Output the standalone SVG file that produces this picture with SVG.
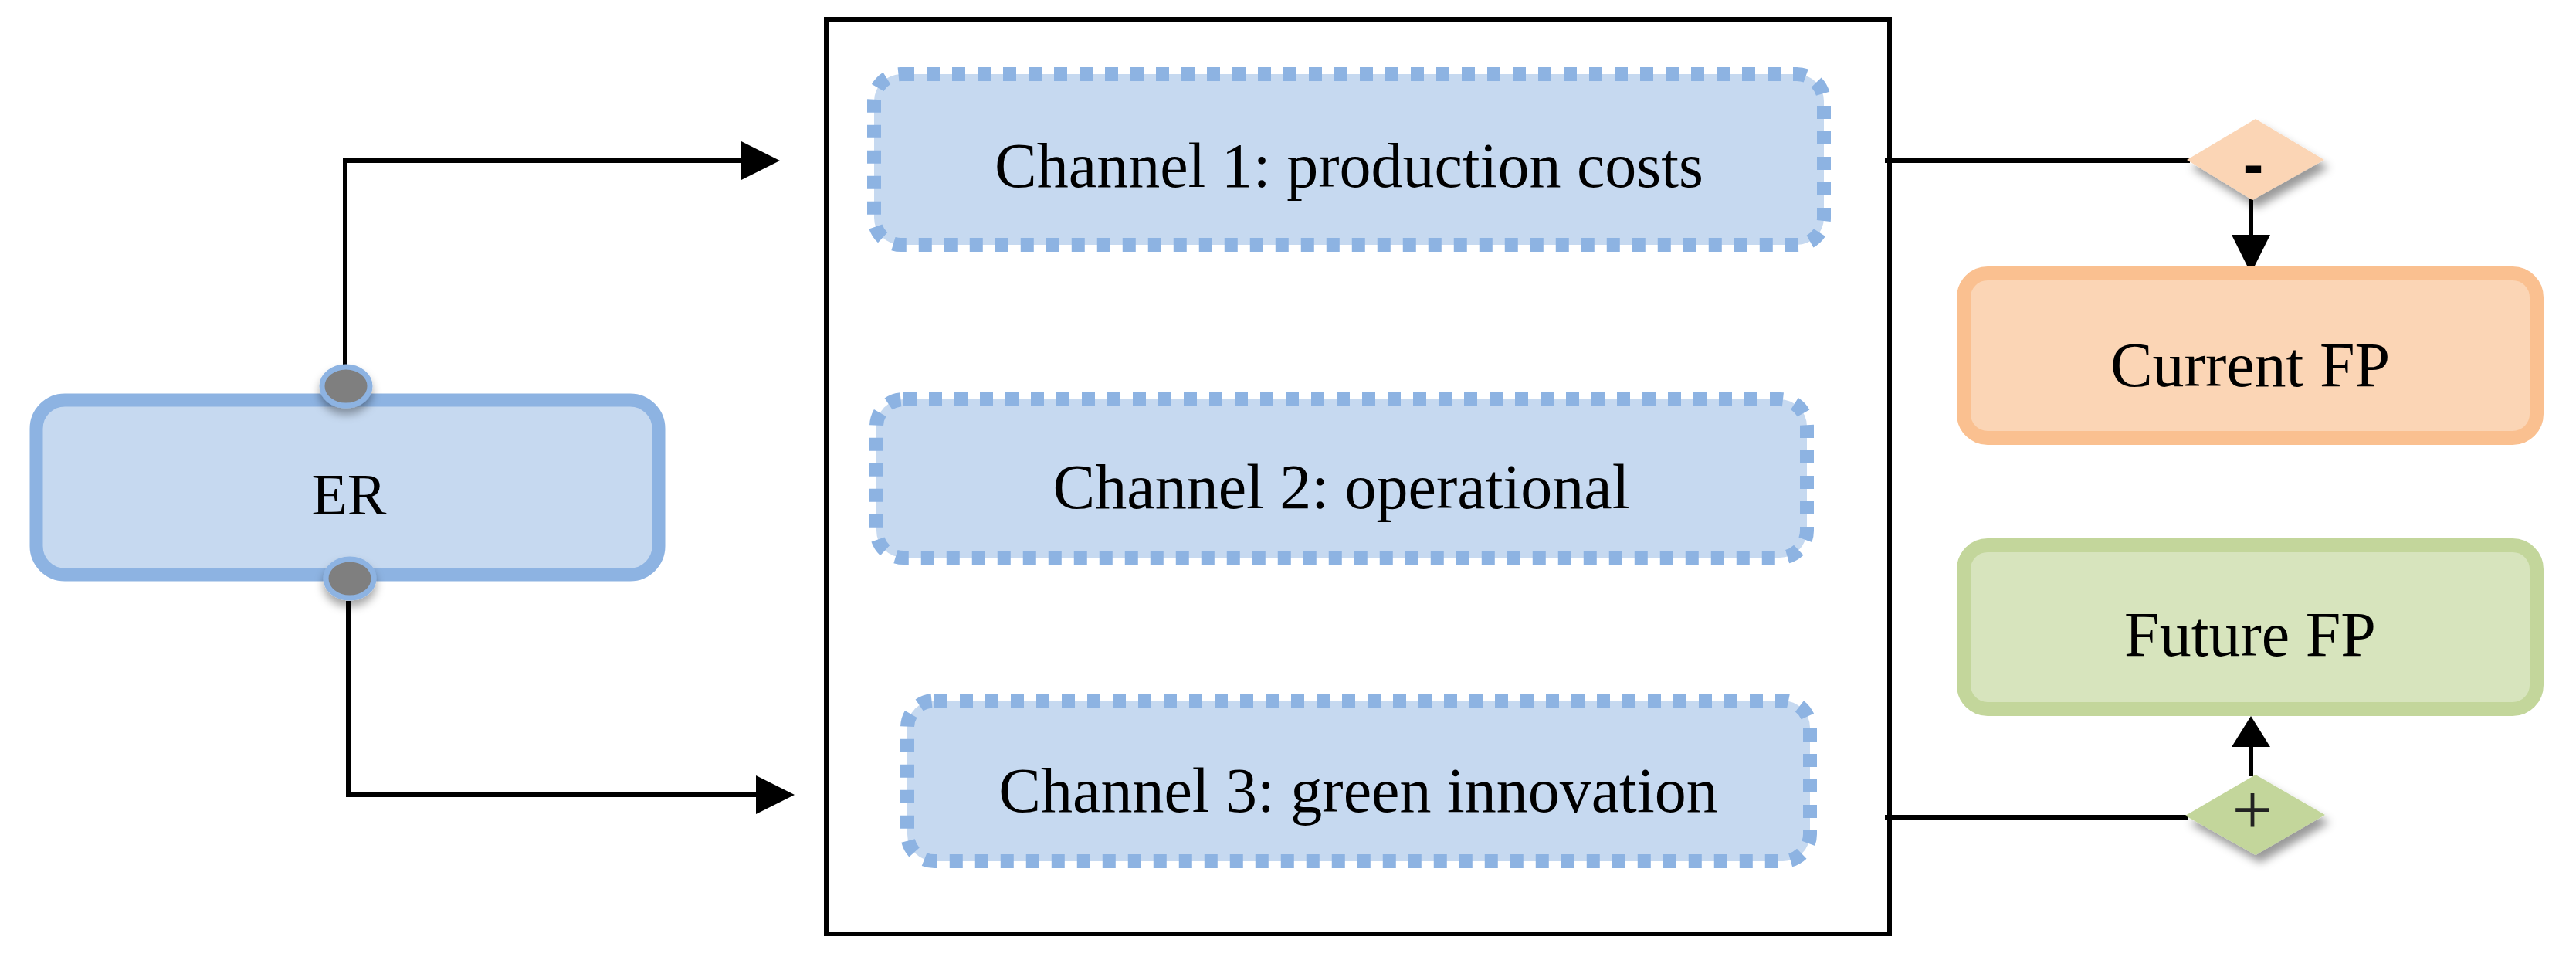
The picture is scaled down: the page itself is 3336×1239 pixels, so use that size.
<svg xmlns="http://www.w3.org/2000/svg" width="3336" height="1239" viewBox="0 0 3336 1239">
  <style>
    .lbl { font-family: "Liberation Serif", "Times New Roman", serif; font-size: 82px; fill: #000; text-anchor: middle; }
    .blue { fill: #c6d9f0; stroke: #8db3e2; stroke-width: 17; }
    .chan { fill: #c6d9f0; stroke: #8db3e2; stroke-width: 18; stroke-dasharray: 17 16; }
    .orange { fill: #fbd5b5; stroke: #fac090; stroke-width: 18; }
    .green { fill: #d7e4bd; stroke: #c3d69b; stroke-width: 18; }
    .wire { fill: none; stroke: #000; stroke-width: 6; }
    .head { fill: #000; }
    .port { fill: #7f7f7f; stroke: #8db3e2; stroke-width: 7; }
  </style>
  <defs>
    <filter id="shadow" x="-30%" y="-30%" width="170%" height="190%">
      <feDropShadow dx="6" dy="10" stdDeviation="6" flood-color="#000" flood-opacity="0.4"/>
    </filter>
    <filter id="pshadow" x="-40%" y="-40%" width="180%" height="200%">
      <feDropShadow dx="0" dy="8" stdDeviation="6" flood-color="#000" flood-opacity="0.35"/>
    </filter>
  </defs>
  <rect width="3336" height="1239" fill="#fff"/>

  <g id="container">
    <rect x="1070" y="25" width="1377" height="1184" fill="none" stroke="#000" stroke-width="6"/>
  </g>

  <g id="connectors">
    <polyline class="wire" points="447,475 447,208 965,208"/>
    <polygon class="head" points="960,183 1010,208 960,233"/>
    <polyline class="wire" points="451,778 451,1029 984,1029"/>
    <polygon class="head" points="979,1004 1029,1029 979,1054"/>
    <line class="wire" x1="2441" y1="208" x2="2836" y2="208"/>
    <line class="wire" x1="2441" y1="1058" x2="2834" y2="1058"/>
    <line class="wire" x1="2915" y1="258" x2="2915" y2="308"/>
    <polygon class="head" points="2890,304 2940,304 2915,354"/>
    <line class="wire" x1="2915" y1="1005" x2="2915" y2="963"/>
    <polygon class="head" points="2890,967 2940,967 2915,927"/>
  </g>

  <g id="er">
    <rect class="blue" x="47" y="518" width="806" height="226" rx="37"/>
    <text class="lbl" x="452" y="666" style="font-size:76px">ER</text>
  </g>
  <g id="er-port-top">
    <ellipse class="port" cx="448" cy="500" rx="31" ry="25" filter="url(#pshadow)"/>
  </g>
  <g id="er-port-bottom">
    <ellipse class="port" cx="453" cy="749" rx="31" ry="25" filter="url(#pshadow)"/>
  </g>

  <g id="channel1">
    <rect class="chan" x="1132" y="96" width="1230" height="221" rx="35"/>
    <text class="lbl" x="1747" y="242">Channel 1: production costs</text>
  </g>
  <g id="channel2">
    <rect class="chan" x="1135" y="517" width="1205" height="205" rx="35"/>
    <text class="lbl" x="1737" y="658">Channel 2: operational</text>
  </g>
  <g id="channel3">
    <rect class="chan" x="1175" y="907" width="1169" height="208" rx="35"/>
    <text class="lbl" x="1759" y="1051">Channel 3: green innovation</text>
  </g>

  <g id="minus">
    <polygon points="2832,207 2921,154 3010,207 2917,259" fill="#fbd5b5" filter="url(#shadow)"/>
    <text x="2918" y="240" style="font-family:'Liberation Sans', Arial, sans-serif; font-size:80px; font-weight:bold; text-anchor:middle; fill:#000">-</text>
  </g>
  <g id="plus">
    <polygon points="2830,1056 2921,1003 3011,1055 2921,1107" fill="#c3d69b" filter="url(#shadow)"/>
    <text x="2917" y="1080" style="font-family:'Liberation Serif', 'Times New Roman', serif; font-size:94px; text-anchor:middle; fill:#222">+</text>
  </g>

  <g id="current-fp">
    <rect class="orange" x="2543" y="354" width="742" height="213" rx="31"/>
    <text class="lbl" x="2914" y="500">Current FP</text>
  </g>
  <g id="future-fp">
    <rect class="green" x="2543" y="706" width="742" height="212" rx="31"/>
    <text class="lbl" x="2914" y="849">Future FP</text>
  </g>
</svg>
